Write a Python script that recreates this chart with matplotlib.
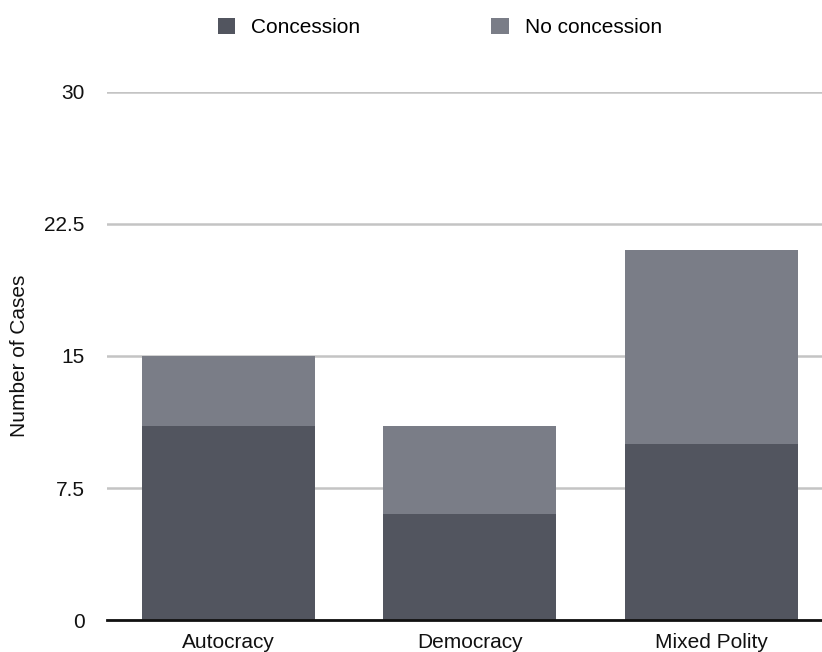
import matplotlib.pyplot as plt
import numpy as np

plt.rcParams['font.family'] = ['Liberation Sans', 'DejaVu Sans']

regimes = ["Autocracy", "Democracy", "Mixed Polity"]
concession = [11, 6, 10]
no_concession = [4, 5, 11]
yticks = [0, 7.5, 15, 22.5, 30]
ytick_labels = ["0", "7.5", "15", "22.5", "30"]

c_dark = "#52555f"
c_light = "#7a7d87"

fig = plt.figure(figsize=(8.22, 6.52), dpi=100)
ax = fig.add_axes([0.130, 0.049, 0.870, 0.810])

x = np.arange(len(regimes))
ax.bar(x, concession, width=0.716, color=c_dark, label="Concession", zorder=3)
ax.bar(x, no_concession, width=0.716, bottom=concession, color=c_light,
       label="No concession", zorder=3)

ax.set_xlim(-0.503, 2.457)
ax.set_ylim(0, 30)
ax.set_yticks(yticks)
ax.set_yticklabels(ytick_labels)
ax.set_xticks(x)
ax.set_xticklabels(regimes)
ax.tick_params(axis="both", length=0, labelsize=15, colors="#111111")
ax.tick_params(axis="y", pad=16)
ax.tick_params(axis="x", pad=9)
ax.grid(axis="y", color="#c4c4c4", linewidth=1.8, zorder=0)
for s in ["top", "right", "left"]:
    ax.spines[s].set_visible(False)
ax.spines["bottom"].set_linewidth(2)
ax.spines["bottom"].set_color("#111111")
ax.spines["bottom"].set_zorder(4)
ax.set_ylabel("Number of Cases", fontsize=15, color="#111111")
ax.yaxis.set_label_coords(-0.109, 0.5)

fig.legend(loc="center", bbox_to_anchor=(0.535, 0.958), ncol=2, frameon=False,
           fontsize=15, handlelength=0.85, handleheight=0.85,
           handletextpad=0.75, columnspacing=6.3)

fig.savefig("out.png", dpi=100)
